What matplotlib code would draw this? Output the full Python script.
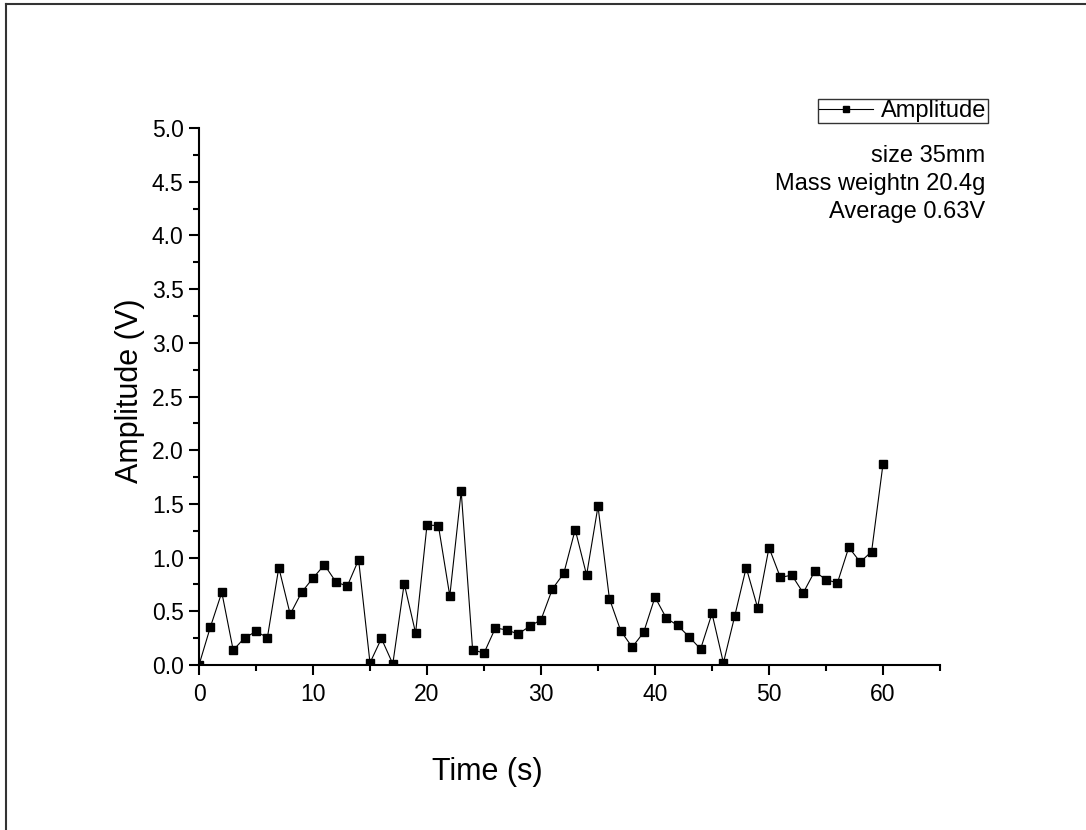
import numpy as np
import matplotlib.pyplot as plt
from matplotlib.lines import Line2D

plt.rcParams['font.family'] = ['Liberation Sans', 'DejaVu Sans']

# time (s) and amplitude (V)
time_s = list(range(0, 61))
amplitude = [0.0, 0.354, 0.677, 0.138, 0.253, 0.312, 0.256, 0.907, 0.472, 0.677,
             0.809, 0.933, 0.775, 0.733, 0.980, 0.02, 0.247, 0.01, 0.758, 0.298,
             1.303, 1.298, 0.643, 1.618, 0.143, 0.11, 0.345, 0.326, 0.289, 0.360,
             0.421, 0.708, 0.854, 1.261, 0.837, 1.478, 0.618, 0.317, 0.166, 0.303,
             0.632, 0.435, 0.368, 0.261, 0.149, 0.480, 0.02, 0.458, 0.907, 0.534,
             1.093, 0.815, 0.837, 0.671, 0.871, 0.795, 0.764, 1.096, 0.958, 1.056,
             1.871]
info_lines = ['size 35mm', 'Mass weightn 20.4g', 'Average 0.63V']

fig = plt.figure(figsize=(10.86, 8.3), dpi=100)
ax = fig.add_axes([199/1086, 1 - 665/830, (940 - 199)/1086, (665 - 128)/830])

ax.plot(time_s, amplitude, '-', color='black', lw=0.8,
        marker='s', markersize=6, markerfacecolor='black', markeredgecolor='black')

ax.set_xlim(0, 65)
ax.set_ylim(0, 5)
ax.set_xticks(np.arange(0, 61, 10))
ax.set_xticks(np.arange(5, 66, 10), minor=True)
ax.set_yticks(np.arange(0, 5.01, 0.5))
ax.set_yticks(np.arange(0.25, 5, 0.5), minor=True)
ax.set_yticklabels(['%.1f' % v for v in np.arange(0, 5.01, 0.5)])

for s in ['top', 'right']:
    ax.spines[s].set_visible(False)
for s in ['left', 'bottom']:
    ax.spines[s].set_linewidth(1.5)
ax.tick_params(which='major', direction='out', length=7, width=1.5, labelsize=16.5)
ax.tick_params(axis='x', which='major', pad=6)
ax.tick_params(axis='y', which='major', pad=4)
ax.tick_params(which='minor', direction='out', length=4, width=1.5)

ax.set_xlabel('Time (s)', fontsize=22)
ax.set_ylabel('Amplitude (V)', fontsize=22)
ax.xaxis.set_label_coords((487 - 199)/741, (665 - 757)/537)
ax.yaxis.set_label_coords((145 - 199)/741, (665 - 391)/537)

handle = Line2D([], [], color='black', lw=0.8, marker='s', markersize=5)
leg = fig.legend([handle], ['Amplitude'], loc='upper right',
                 bbox_to_anchor=(988/1086, 1 - 99/830), fontsize=17,
                 frameon=True, fancybox=False, handlelength=2.3, handletextpad=0.35,
                 borderpad=0.05, borderaxespad=0)
leg.get_frame().set_edgecolor('black')
leg.get_frame().set_linewidth(1.0)

for i, txt in enumerate(info_lines):
    fig.text(985/1086, 1 - (156 + i*28)/830, txt, ha='right', va='center', fontsize=17)

# page border (top and left)
fig.add_artist(Line2D([6/1086, 6/1086], [0, 1 - 4/830], color='#333333', lw=1.5))
fig.add_artist(Line2D([6/1086, 1], [1 - 4/830, 1 - 4/830], color='#333333', lw=1.5))

fig.savefig('out.png', dpi=100)
